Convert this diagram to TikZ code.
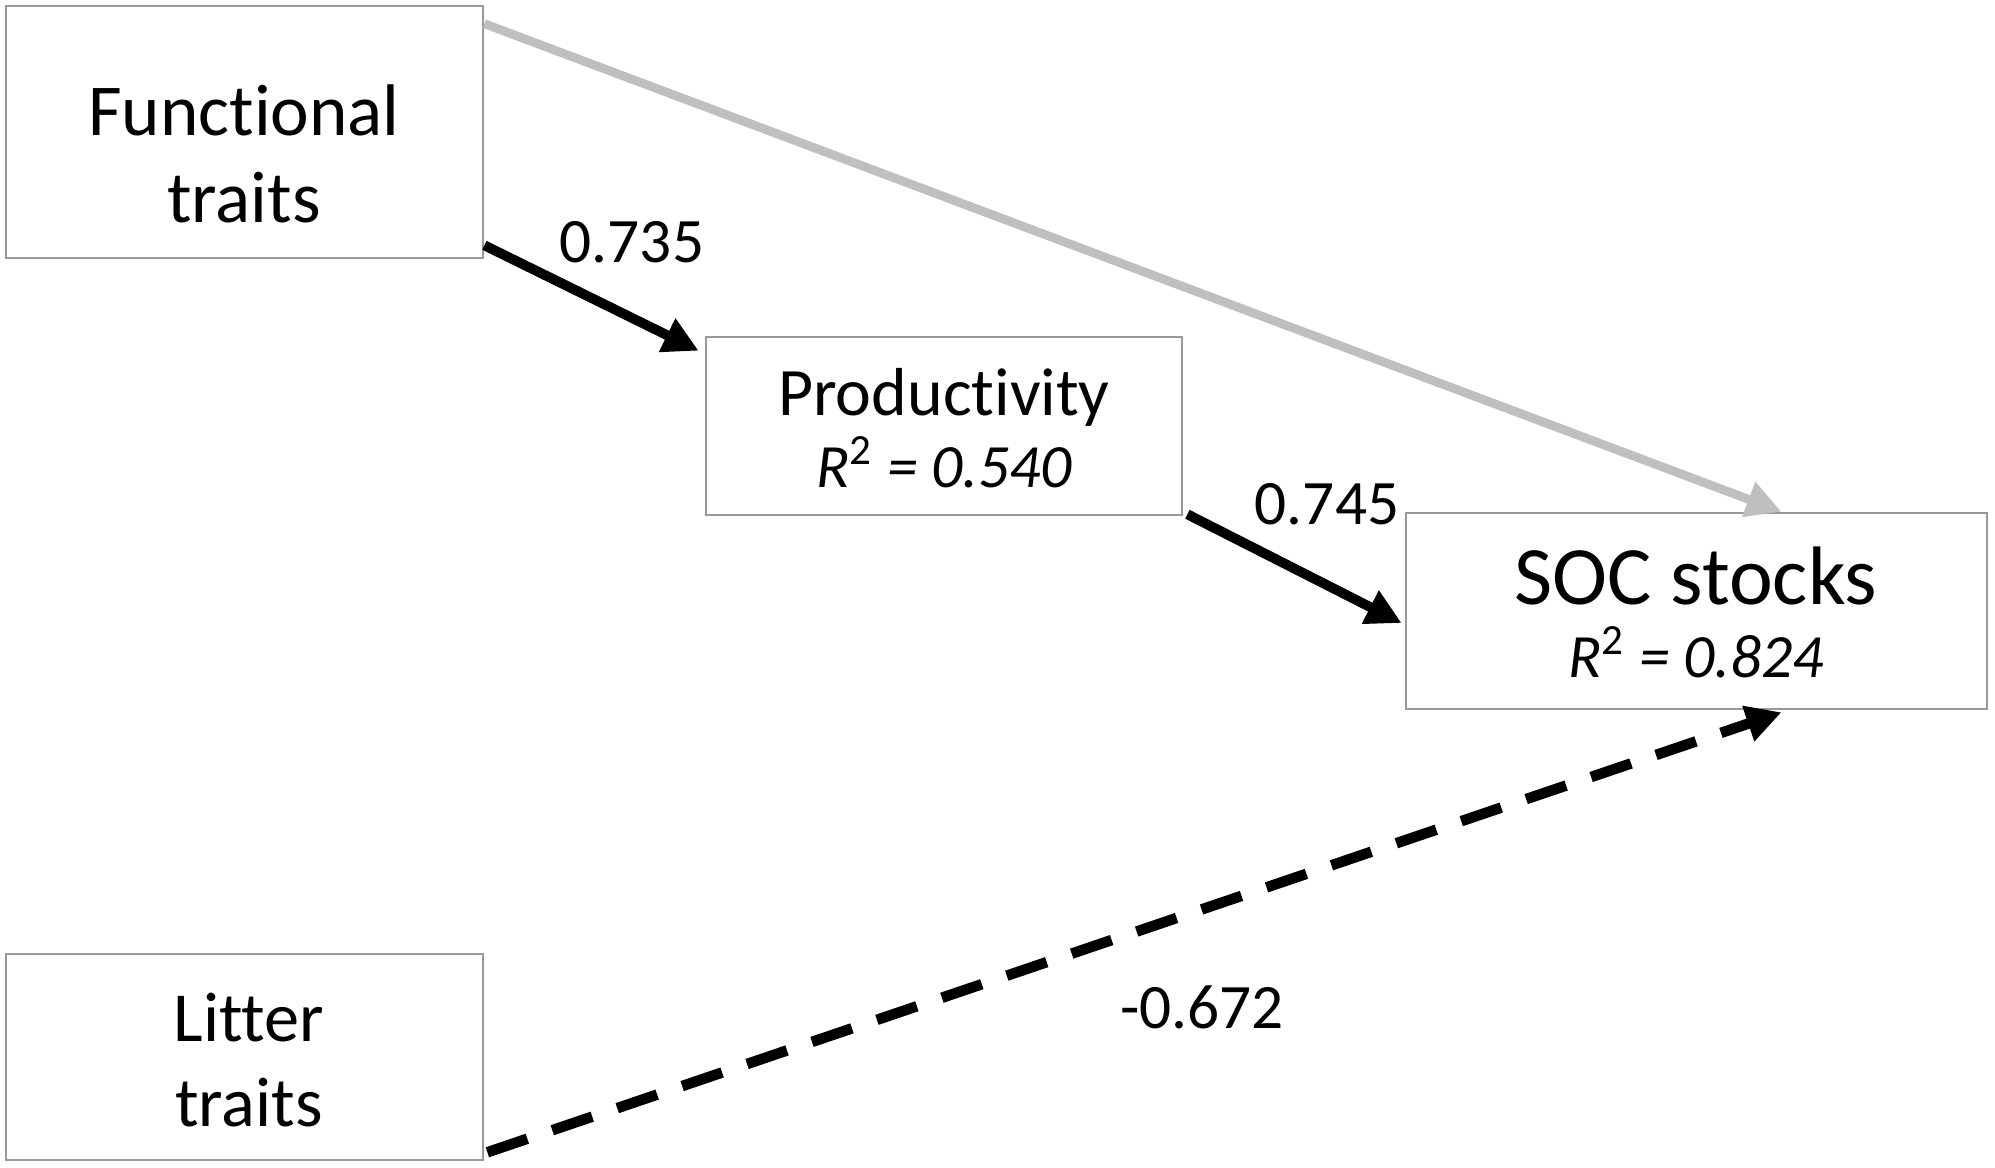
\documentclass[tikz,border=0pt]{standalone}
\usepackage{fontspec}
\setmainfont{Carlito}[Ligatures=NoCommon,RawFeature={-liga;-clig}]
\usetikzlibrary{arrows.meta,calc}
\definecolor{boxline}{HTML}{999999}
\definecolor{lightarrow}{HTML}{BFBFBF}
\tikzset{
  box/.style={draw=boxline, line width=0.7pt, fill=white, inner sep=0pt},
  txt/.style={anchor=base, inner sep=0pt},
  path/.style={line width=2.8pt, -{Triangle[length=10pt,width=10pt]}},
  grayp/.style={path, draw=lightarrow, line width=2.5pt},
  dashp/.style={path, line width=3pt, dash pattern=on 12pt off 7.5pt},
}
\begin{document}
\begin{tikzpicture}[x=0.01cm,y=-0.01cm]
\useasboundingbox (0,0) rectangle (1995,1167);
\fill[white] (0,0) rectangle (1995,1167);
% boxes
\node[box, minimum width=4.77cm, minimum height=2.52cm] (ft) at (244.5,132) {};
\node[box, minimum width=4.76cm, minimum height=1.78cm] (pr) at (944,426) {};
\node[box, minimum width=5.81cm, minimum height=1.96cm] (soc) at (1696.5,611) {};
\node[box, minimum width=4.77cm, minimum height=2.06cm] (lt) at (244.5,1057) {};
% texts
\node[txt, font=\fontsize{20.8}{25}\selectfont] (ft1) at (244,136) {Functional};
\node[txt, font=\fontsize{20.8}{25}\selectfont] (ft2) at (244,223) {traits};
\node[txt, font=\fontsize{19.3}{23}\selectfont] (pr1) at (944,416) {Productivity};
\node[txt, font=\fontsize{17.5}{21}\selectfont\itshape] (pr2) at (944,487) {R\textsuperscript{\upshape 2} = 0.540};
\node[txt, font=\fontsize{23.6}{28}\selectfont] (soc1) at (1696,604) {SOC stocks};
\node[txt, font=\fontsize{17.5}{21}\selectfont\itshape] (soc2) at (1696,677) {R\textsuperscript{\upshape 2} = 0.824};
\node[txt, font=\fontsize{20}{24}\selectfont] (lt1) at (249,1041) {Litter};
\node[txt, font=\fontsize{20}{24}\selectfont] (lt2) at (249,1126) {traits};
% connectors
\draw[grayp] ($(ft.north east)+(0,19)$) -- ($(soc.north)+(85,0)$);
\draw[path] ($(ft.south east)+(0,-14)$) -- ($(pr.north west)+(-6,15)$);
\draw[path] ($(pr.south east)+(4,-2)$) -- ($(soc.west)+(-3,12)$);
\draw[dashp] ($(lt.south east)+(3,-9)$) -- ($(soc.south)+(85,2)$);
% labels
\node[txt, font=\fontsize{18}{22}\selectfont] (l1) at (632,263) {0.735};
\node[txt, font=\fontsize{18}{22}\selectfont] (l2) at (1327,524) {0.745};
\node[txt, font=\fontsize{18}{22}\selectfont] (l3) at (1202,1028) {-0.672};
\end{tikzpicture}
\end{document}
